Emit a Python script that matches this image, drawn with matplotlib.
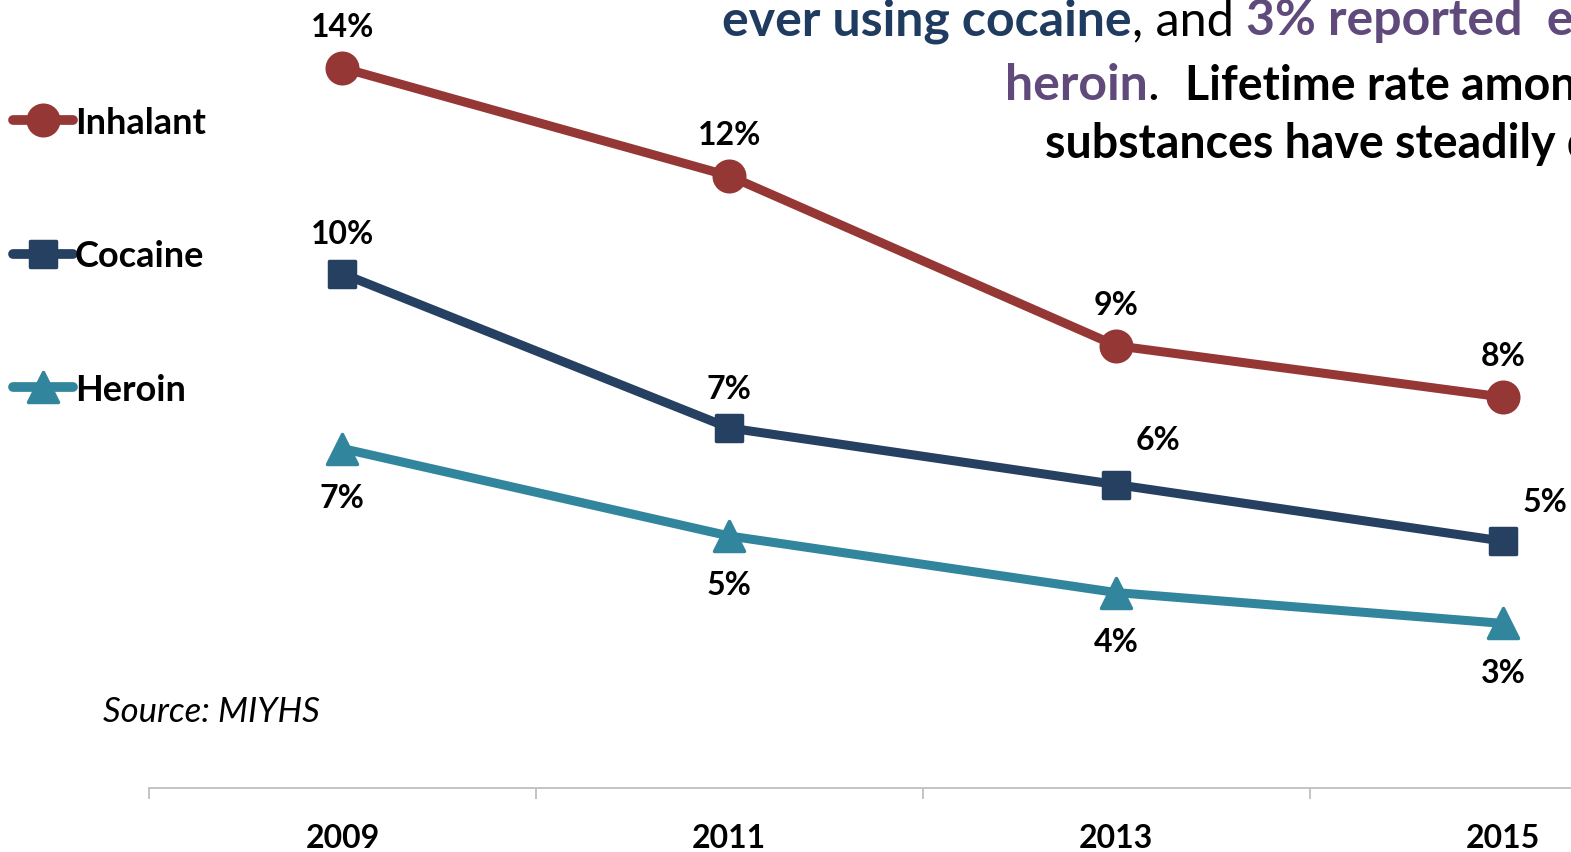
import matplotlib
matplotlib.use("Agg")
import matplotlib.pyplot as plt
from matplotlib.lines import Line2D
from matplotlib.markers import MarkerStyle

plt.rcParams['font.family'] = ['Lato', 'DejaVu Sans']

years = ['2009', '2011', '2013', '2015']
inhalant = [14.0, 11.9, 8.6, 7.6]
cocaine = [10.0, 7.0, 5.9, 4.8]
heroin = [6.6, 4.9, 3.8, 3.2]

series = [
    # name, values, color, marker, marker size, label offset (points)
    ('Inhalant', inhalant, '#953735', 'o', 22, [(0, 29), (0, 29), (0, 29), (0, 29)]),
    ('Cocaine', cocaine, '#254061', 's', 19, [(0, 28), (0, 28), (30, 32), (30, 28)]),
    ('Heroin', heroin, '#31859C', '^', 21, [(0, -36), (0, -36), (0, -36), (0, -36)]),
]

W, H = 1571, 852
fig = plt.figure(figsize=(W / 100, H / 100), dpi=100)
ax = fig.add_axes([149 / W, 0, 1 - 149 / W, 1])
ax.set_xlim(-0.5, 3.176)
ax.set_ylim(-1.244, 15.32)

x = list(range(len(years)))
for name, vals, col, mk, ms, offs in series:
    style = MarkerStyle(mk, joinstyle='round')
    ax.plot(x, vals, color=col, lw=6.5, marker=style, ms=ms,
            mec=col, mew=2.5, solid_capstyle='round')
    for xi, v, (dx, dy) in zip(x, vals, offs):
        ax.annotate(f"{v:.0f}%", (xi, v), xytext=(dx, dy), textcoords='offset points',
                    ha='center', va='center', fontsize=23, fontweight='bold')

# category axis along zero
for s in ['left', 'right', 'top']:
    ax.spines[s].set_visible(False)
ax.spines['bottom'].set_position(('data', 0))
ax.spines['bottom'].set_color('#BFBFBF')
ax.spines['bottom'].set_linewidth(1.3)
ax.set_yticks([])
ax.set_xticks(x)
ax.set_xticklabels(years, fontsize=23, fontweight='bold')
ax.set_xticks([-0.5, 0.5, 1.5, 2.5], minor=True)
ax.tick_params(axis='x', which='major', length=0, pad=26)
ax.tick_params(axis='x', which='minor', length=8, width=1.3, color='#BFBFBF')

fig.text(103 / W, 1 - 712 / H, 'Source: MIYHS', style='italic',
         fontsize=25, ha='left', va='center')

# legend drawn at the left margin
for i, (name, vals, col, mk, ms, offs) in enumerate(series):
    y = 1 - (120 + i * 133.5) / H
    fig.add_artist(Line2D([13 / W, 43 / W, 73 / W], [y, y, y], color=col, lw=7,
                          marker=MarkerStyle(mk, joinstyle='round'), markevery=[1],
                          ms=ms, mec=col, mew=2.5, solid_capstyle='round'))
    fig.text(75 / W, 1 - (123 + i * 133.5) / H, name, fontsize=26, fontweight='bold',
             va='center', ha='left')

# headline text, pieces laid out left to right on a shared baseline
blue = '#1F3B5F'
purple = '#604A7B'
lines = [
    (722, 35, [('ever using cocaine', blue, 'bold', 36), (', and ', 'black', 'normal', 35),
               ('3% reported  ever', purple, 'bold', 36)]),
    (1005, 100, [('heroin', purple, 'bold', 36), ('.  ', 'black', 'normal', 36),
                 ('Lifetime rate among', 'black', 'bold', 33.5)]),
    (1045, 158, [('substances have steadily declined', 'black', 'bold', 33.5)]),
]
renderer = fig.canvas.get_renderer()
for x0, yb, parts in lines:
    xpos = x0
    for txt, col, wt, fs in parts:
        t = fig.text(xpos / W, 1 - yb / H, txt, color=col, fontweight=wt,
                     fontsize=fs, ha='left', va='baseline')
        xpos = t.get_window_extent(renderer).x1

fig.savefig('out.png', dpi=100)
